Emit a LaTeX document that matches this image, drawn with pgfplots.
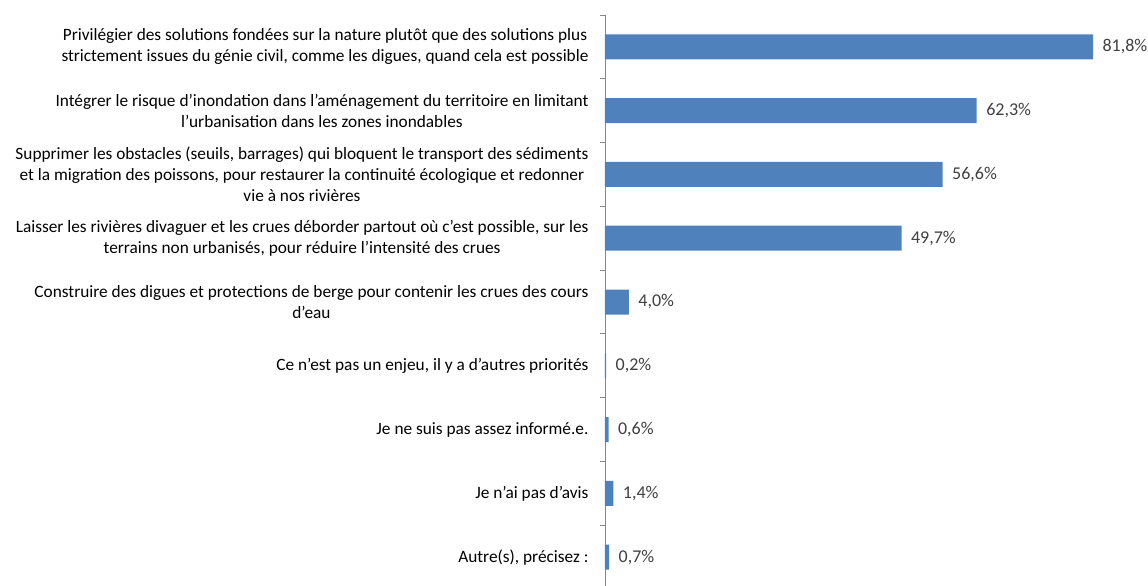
\documentclass[border=0pt]{standalone}
\usepackage{pgfplots}
\pgfplotsset{compat=1.18}
\usepackage{fontspec}
\setmainfont{Carlito}
\usetikzlibrary{calc}
\definecolor{barblue}{HTML}{4F81BD}
\definecolor{axgray}{HTML}{888888}
\definecolor{valtxt}{HTML}{404040}
\begin{document}
\begin{tikzpicture}
\begin{axis}[
    name=ax,
    scale only axis,
    width=537pt, height=574pt,
    xbar,
    xmin=0, xmax=90,
    ymin=0.5, ymax=9.5,
    y dir=reverse,
    bar width=25pt,
    hide x axis,
    axis y line*=left,
    y axis line style={axgray, line width=0.8pt},
    ytick={1,...,9},
    yticklabels={
      {Privilégier des solutions fondées sur la nature plutôt que des solutions plus\\strictement issues du génie civil, comme les digues, quand cela est possible},
      {Intégrer le risque d’inondation dans l’aménagement du territoire en limitant\\l’urbanisation dans les zones inondables},
      {Supprimer les obstacles (seuils, barrages) qui bloquent le transport des sédiments\\et la migration des poissons, pour restaurer la continuité écologique et redonner\\vie à nos rivières},
      {Laisser les rivières divaguer et les crues déborder partout où c’est possible, sur les\\terrains non urbanisés, pour réduire l’intensité des crues},
      {Construire des digues et protections de berge pour contenir les crues des cours\\d’eau},
      {Ce n’est pas un enjeu, il y a d’autres priorités},
      {Je ne suis pas assez informé.e.},
      {Je n’ai pas d’avis},
      {Autre(s), précisez :}
    },
    major tick length=0pt,
    minor ytick={0.5,1.5,...,9.5},
    minor tick length=5pt,
    tick align=outside,
    every tick/.style={axgray, line width=0.8pt},
    yticklabel style={align=center, font=\fontsize{17.3}{21}\selectfont, text=black, xshift=-13pt},
    point meta=x,
    nodes near coords={\pgfmathprintnumber[fixed,fixed zerofill,precision=1,use comma,assume math mode=true]{\pgfplotspointmeta}\%},
    nodes near coords style={font=\fontsize{18}{21}\selectfont, text=valtxt, xshift=6pt},
]
\addplot[fill=barblue, draw=none] coordinates {
  (81.8,1) (62.3,2) (56.6,3) (49.7,4) (4.0,5) (0.2,6) (0.6,7) (1.4,8) (0.7,9)
};
\end{axis}
\pgfresetboundingbox
\path ($(ax.south west)+(-605pt,3pt)$) rectangle ($(ax.north west)+(543pt,15pt)$);
\end{tikzpicture}
\end{document}
